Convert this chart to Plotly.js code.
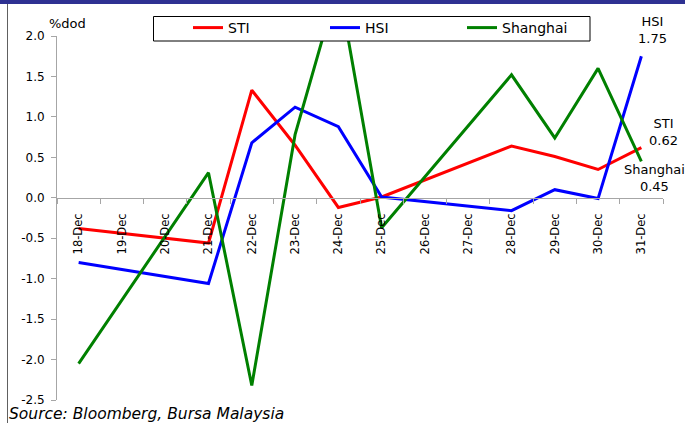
<!DOCTYPE html>
<html>
<head>
<meta charset="utf-8">
<script src="https://cdn.plot.ly/plotly-3.0.1.min.js"></script>
<style>
  html, body { margin: 0; padding: 0; background: #ffffff; }
  #chart { width: 685px; height: 423px; }
</style>
</head>
<body>
<div id="chart"></div>
<script>
// Daily % change of regional indices, 18-31 Dec (weekends left empty, lines bridge them)
const dates = ['18-Dec', '19-Dec', '20-Dec', '21-Dec', '22-Dec', '23-Dec', '24-Dec',
               '25-Dec', '26-Dec', '27-Dec', '28-Dec', '29-Dec', '30-Dec', '31-Dec'];
const sti      = [-0.38, null, null, -0.56, 1.33, 0.65, -0.12, 0.01, null, null, 0.64, 0.51, 0.35, 0.62];
const hsi      = [-0.80, null, null, -1.06, 0.68, 1.12, 0.88, 0.01, null, null, -0.16, 0.10, -0.01, 1.75];
const shanghai = [-2.05, null, null, 0.31, -2.32, 0.78, 2.65, -0.37, null, null, 1.52, 0.74, 1.60, 0.45];

const yTickVals = [-2.5, -2.0, -1.5, -1.0, -0.5, 0.0, 0.5, 1.0, 1.5, 2.0];
const yTickText = ['-2.5', '-2.0', '-1.5', '-1.0', '-0.5', '0.0', '0.5', '1.0', '1.5', '2.0'];
const yRange = [-2.5, 2.0];

const W = 685, H = 423;
const M = { l: 57, r: 22, t: 36, b: 23 };
const plotW = W - M.l - M.r, plotH = H - M.t - M.b;
// pixel -> paper helpers for decorations
const px = v => (v - M.l) / plotW;
const py = v => (H - M.b - v) / plotH;

const FONT = 'DejaVu Sans';
const AXIS_GREY = '#a6a6a6';

const mk = (name, y, color) => ({
  type: 'scatter', mode: 'lines', name: name, x: dates, y: y,
  connectgaps: true, line: { color: color, width: 3 }, hoverinfo: 'x+y+name'
});

const traces = [
  mk('STI', sti, '#ff0000'),
  mk('HSI', hsi, '#0000ff'),
  mk('Shanghai', shanghai, '#008000')
];

const last = dates.length - 1;
const endLabel = (name, val, xs, ys) => ({
  x: dates[last], y: val, xref: 'x', yref: 'y',
  text: name + '<br>' + val.toFixed(2), showarrow: false,
  xshift: xs, yshift: ys, align: 'center',
  font: { family: FONT, size: 13, color: '#000' }
});

const layout = {
  width: W, height: H,
  margin: M,
  paper_bgcolor: '#ffffff', plot_bgcolor: 'rgba(0,0,0,0)',
  showlegend: true,
  legend: {
    orientation: 'h', x: px(188), xanchor: 'left', y: py(28), yanchor: 'middle',
    bgcolor: 'rgba(0,0,0,0)', borderwidth: 0,
    entrywidth: 92, entrywidthmode: 'pixels',
    font: { family: FONT, size: 14, color: '#000' }
  },
  xaxis: {
    type: 'category', categoryorder: 'array', categoryarray: dates,
    range: [-0.5, dates.length - 0.5],
    anchor: 'free', position: (0 - yRange[0]) / (yRange[1] - yRange[0]),
    showline: true, linecolor: AXIS_GREY, linewidth: 1,
    ticks: 'outside', tickson: 'boundaries', ticklen: 5, tickcolor: AXIS_GREY,
    tickangle: -90, ticklabelstandoff: 10,
    showgrid: false, zeroline: false,
    tickfont: { family: FONT, size: 11.5, color: '#000' }
  },
  yaxis: {
    range: yRange, tickvals: yTickVals, ticktext: yTickText,
    showline: true, linecolor: AXIS_GREY, linewidth: 1,
    ticks: 'outside', ticklen: 5, tickcolor: AXIS_GREY, ticklabelstandoff: 4,
    showgrid: false, zeroline: false,
    tickfont: { family: FONT, size: 12, color: '#000' }
  },
  shapes: [
    // navy banner along the top edge
    { type: 'rect', xref: 'paper', yref: 'paper', x0: px(0), x1: px(W), y0: py(4), y1: py(0),
      fillcolor: '#2e3192', line: { width: 0 }, layer: 'above' },
    // left frame line
    { type: 'line', xref: 'paper', yref: 'paper', x0: px(7.5), x1: px(7.5), y0: py(H), y1: py(4),
      line: { color: '#606060', width: 1 }, layer: 'above' },
    // legend box
    { type: 'rect', xref: 'paper', yref: 'paper', x0: px(153.5), x1: px(590), y0: py(41), y1: py(16.5),
      fillcolor: '#ffffff', line: { color: '#000000', width: 1 }, layer: 'above' }
  ],
  annotations: [
    { xref: 'paper', yref: 'paper', x: px(47), y: py(24), xanchor: 'left', yanchor: 'middle',
      text: '%dod', showarrow: false, font: { family: FONT, size: 13, color: '#000' } },
    { xref: 'paper', yref: 'paper', x: px(7), y: py(414), xanchor: 'left', yanchor: 'middle',
      text: '<i>Source: Bloomberg, Bursa Malaysia</i>', showarrow: false,
      font: { family: FONT, size: 15.5, color: '#000' } },
    endLabel('HSI', hsi[last], 11, 26),
    endLabel('STI', sti[last], 22, 16),
    endLabel('Shanghai', shanghai[last], 13, -17)
  ]
};

Plotly.newPlot('chart', traces, layout, { displayModeBar: false, staticPlot: true });
</script>
</body>
</html>
